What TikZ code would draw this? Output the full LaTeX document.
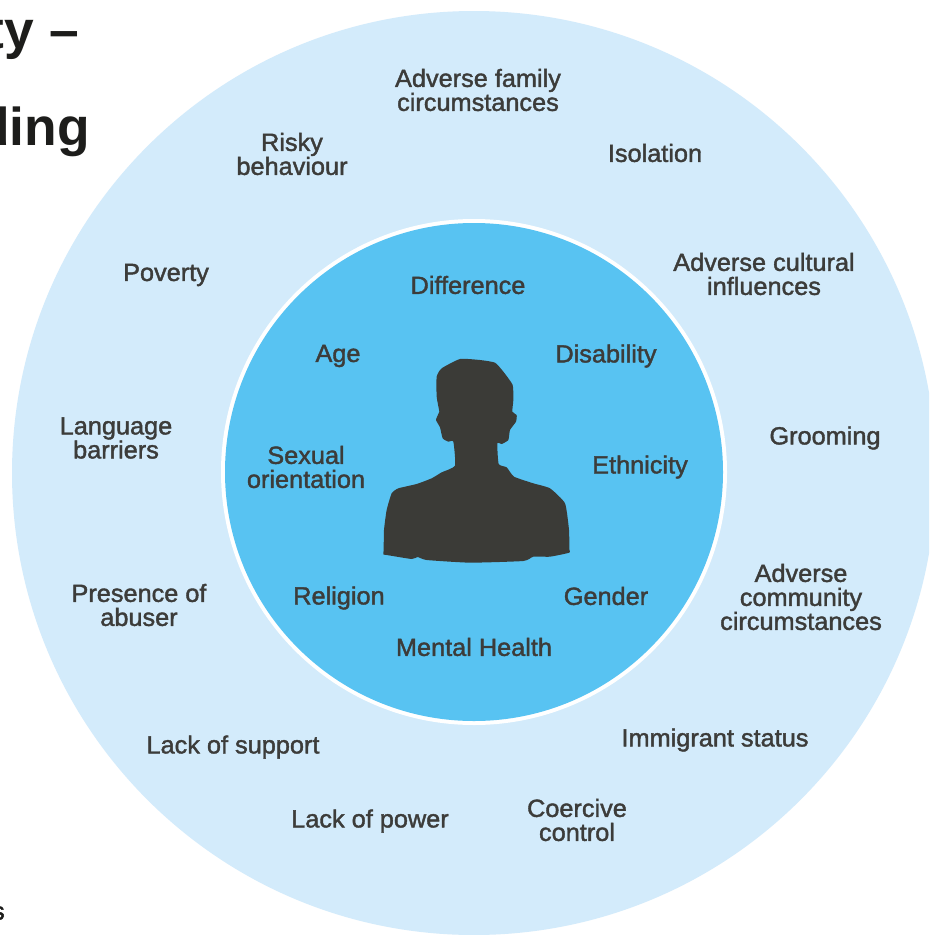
\documentclass[tikz,border=0pt]{standalone}
\usepackage{fontspec}
\newfontfamily\labfont[FakeBold=1.6,FakeStretch=1.02]{Liberation Sans}
\newfontfamily\headfont{Liberation Sans Bold}
\definecolor{outerblue}{HTML}{D3EBFB}
\definecolor{innerblue}{HTML}{58C3F2}
\definecolor{labelgrey}{HTML}{3C3C3A}
\definecolor{figgrey}{HTML}{3B3B37}
\definecolor{titleblack}{HTML}{1D1D1B}
\tikzset{
  lab/.style={text=labelgrey,align=center,inner sep=0pt,font=\labfont\fontsize{18.6}{18}\selectfont},
  head/.style={text=titleblack,inner sep=0pt,anchor=east,font=\headfont\fontsize{40}{42}\selectfont},
}
\begin{document}
\begin{tikzpicture}[x=0.75pt,y=-0.75pt]
\useasboundingbox (0,0) rectangle (929,935);
\clip (0,0) rectangle (929,935);
\fill[white] (0,0) rectangle (929,935);
\fill[outerblue] (474,473) circle[radius=462];
\fill[white] (474,472) circle[radius=253];
\fill[innerblue] (474,472) circle[radius=249];
\begin{scope}[shift={(370,340)},x=0.25pt,y=-0.25pt]
\fill[figgrey] plot[smooth cycle,tension=0.3] coordinates {
(40,643)(41,630)(42,570)(50,510)(65,460)(85,445)(140,432)(185,415)(215,397)(255,377)(250,305)(235,305)(218,295)(210,262)(198,240)(205,222)(208,215)(200,170)(200,110)(215,85)(270,57)(330,60)(375,68)(400,95)(428,135)(430,180)(427,215)(440,225)(438,245)(420,270)(415,300)(395,312)(382,310)(386,372)(410,382)(432,410)(490,430)(540,445)(585,490)(597,570)(598,628)(598,638)(540,650)(490,650)(460,663)(300,668)(170,660)(143,651)(125,657)(50,645)};
\end{scope}
\node[head] (t1) at (79,37) {ty –};
\node[head] (t2) at (90,132) {ding};
\node[text=titleblack,inner sep=0pt,anchor=east,font=\labfont\fontsize{18.6}{18}\selectfont] (t3) at (5,913) {s};
\node[lab] (n1) at (478,90) {Adverse family\\circumstances};
\node[lab] (n2) at (292,154) {Risky\\behaviour};
\node[lab] (n3) at (655,153) {Isolation};
\node[lab] (n4) at (166,275) {Poverty};
\node[lab] (n5) at (764,274) {Adverse cultural\\influences};
\node[lab] (n6) at (116,438) {Language\\barriers};
\node[lab] (n7) at (825,438) {Grooming};
\node[lab] (n8) at (139,605) {Presence of\\abuser};
\node[lab] (n9) at (801,597) {Adverse\\community\\circumstances};
\node[lab] (n10) at (233,747) {Lack of support};
\node[lab] (n11) at (715,740) {Immigrant status};
\node[lab] (n12) at (370,821) {Lack of power};
\node[lab] (n13) at (577,820) {Coercive\\control};
\node[lab] (i1) at (468,285) {Difference};
\node[lab] (i2) at (338,356) {Age};
\node[lab] (i3) at (606,356) {Disability};
\node[lab] (i4) at (306,467) {Sexual\\orientation};
\node[lab] (i5) at (640,467) {Ethnicity};
\node[lab] (i6) at (339,598) {Religion};
\node[lab] (i7) at (606,596) {Gender};
\node[lab] (i8) at (474,647) {Mental Health};
\end{tikzpicture}
\end{document}
